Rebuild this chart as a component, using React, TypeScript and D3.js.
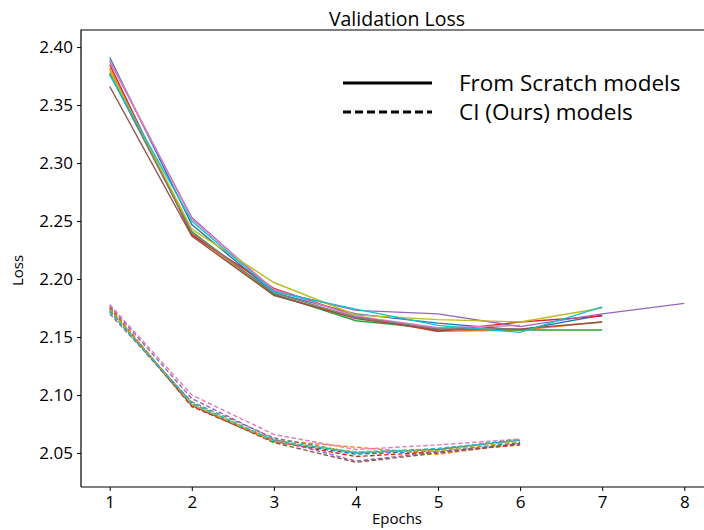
import { useRef, useEffect } from "react";
import * as d3 from "d3";

const epochs = [1, 2, 3, 4, 5, 6, 7, 8];
const yTicks = [2.05, 2.1, 2.15, 2.2, 2.25, 2.3, 2.35, 2.4];
const colors = [
  "#1f77b4", "#ff7f0e", "#2ca02c", "#d62728", "#9467bd",
  "#8c564b", "#e377c2", "#7f7f7f", "#bcbd22", "#17becf",
];

// from scratch runs (solid)
const scratchBlue = [2.391, 2.247, 2.188, 2.17, 2.162, 2.156, 2.169];
const scratchOrange = [2.382, 2.239, 2.186, 2.167, 2.155, 2.156, 2.163];
const scratchGreen = [2.378, 2.241, 2.187, 2.164, 2.157, 2.156, 2.156];
const scratchRed = [2.385, 2.238, 2.192, 2.168, 2.155, 2.163, 2.168];
const scratchPurple = [2.388, 2.253, 2.19, 2.173, 2.17, 2.159, 2.17, 2.179];
const scratchBrown = [2.366, 2.237, 2.186, 2.166, 2.156, 2.157, 2.163];
const scratchPink = [2.389, 2.252, 2.191, 2.168, 2.158, 2.16];
const scratchGray = [2.377, 2.24, 2.188, 2.167, 2.157, 2.157];
const scratchOlive = [2.38, 2.243, 2.197, 2.169, 2.165, 2.163, 2.175];
const scratchCyan = [2.376, 2.25, 2.189, 2.174, 2.16, 2.154, 2.176];

// CI runs (dashed)
const ciBlue = [2.174, 2.092, 2.06, 2.049, 2.052, 2.059];
const ciOrange = [2.176, 2.091, 2.061, 2.055, 2.049, 2.058];
const ciGreen = [2.173, 2.093, 2.059, 2.051, 2.053, 2.062];
const ciRed = [2.175, 2.09, 2.06, 2.047, 2.051, 2.057];
const ciPurple = [2.177, 2.097, 2.062, 2.043, 2.051, 2.058];
const ciBrown = [2.172, 2.091, 2.059, 2.042, 2.05, 2.058];
const ciPink = [2.178, 2.1, 2.066, 2.053, 2.057, 2.062];
const ciGray = [2.17, 2.094, 2.063, 2.05, 2.053, 2.061];
const ciOlive = [2.174, 2.092, 2.06, 2.051, 2.052, 2.06];
const ciCyan = [2.172, 2.093, 2.061, 2.05, 2.054, 2.061];

const scratch = [scratchBlue, scratchOrange, scratchGreen, scratchRed, scratchPurple,
  scratchBrown, scratchPink, scratchGray, scratchOlive, scratchCyan];
const ci = [ciBlue, ciOrange, ciGreen, ciRed, ciPurple,
  ciBrown, ciPink, ciGray, ciOlive, ciCyan];

const W = 704;
const H = 530;
const m = { left: 81, right: 713, top: 30, bottom: 487 };
const font = "'Open Sans', sans-serif";

const App = () => {
  const ref = useRef<SVGSVGElement | null>(null);

  useEffect(() => {
    if (!ref.current) return;
    const svg = d3.select(ref.current);
    svg.selectAll("*").remove();

    const x = d3.scaleLinear().domain([0.65, 8.35]).range([m.left, m.right]);
    const y = d3.scaleLinear().domain([2.0207, 2.4147]).range([m.bottom, m.top]);

    const line = d3
      .line<number>()
      .x((d, i) => x(epochs[i]))
      .y((d) => y(d));

    const plot = svg.append("g");
    scratch.forEach((s, i) => {
      plot.append("path").datum(s).attr("d", line)
        .attr("fill", "none").attr("stroke", colors[i]).attr("stroke-width", 1.4);
    });
    ci.forEach((s, i) => {
      plot.append("path").datum(s).attr("d", line)
        .attr("fill", "none").attr("stroke", colors[i]).attr("stroke-width", 1.4)
        .attr("stroke-dasharray", "4.5,2.5");
    });

    // axes (spines drawn separately)
    const xAxis = svg.append("g")
      .attr("transform", `translate(0,${m.bottom})`)
      .call(d3.axisBottom(x).tickValues(epochs).tickFormat(d3.format("d")).tickSize(4));
    const yAxis = svg.append("g")
      .attr("transform", `translate(${m.left},0)`)
      .call(d3.axisLeft(y).tickValues(yTicks).tickFormat(d3.format(".2f")).tickSize(4));
    [xAxis, yAxis].forEach((g) => {
      g.select(".domain").remove();
      g.selectAll("text").attr("font-family", font).attr("font-size", 17).attr("fill", "#000");
      g.selectAll("line").attr("stroke", "#000");
    });
    xAxis.selectAll("text").attr("dy", "0.85em");
    yAxis.selectAll("text").attr("x", -8);

    svg.append("path")
      .attr("d", `M${m.left},${m.bottom}V${m.top}H${m.right}M${m.left},${m.bottom}H${m.right}`)
      .attr("fill", "none").attr("stroke", "#000").attr("stroke-width", 1.2);

    svg.append("text").attr("x", (m.left + m.right) / 2).attr("y", 26)
      .attr("text-anchor", "middle").attr("font-family", font).attr("font-size", 19.5)
      .text("Validation Loss");
    svg.append("text").attr("x", (m.left + m.right) / 2).attr("y", 524)
      .attr("text-anchor", "middle").attr("font-family", font).attr("font-size", 15)
      .text("Epochs");
    svg.append("text").attr("transform", `translate(23,${(m.top + m.bottom) / 2 + 12}) rotate(-90)`)
      .attr("text-anchor", "middle").attr("font-family", font).attr("font-size", 15)
      .text("Loss");

    // legend
    const legend = [
      { label: "From Scratch models", dash: null, yy: 83 },
      { label: "CI (Ours) models", dash: "8,4", yy: 112 },
    ];
    legend.forEach((l) => {
      svg.append("line").attr("x1", 343).attr("x2", 432).attr("y1", l.yy).attr("y2", l.yy)
        .attr("stroke", "#000").attr("stroke-width", 3)
        .attr("stroke-dasharray", l.dash);
      svg.append("text").attr("x", 459).attr("y", l.yy).attr("dy", "0.35em")
        .attr("font-family", font).attr("font-size", 22.5).text(l.label);
    });
  }, []);

  return (
    <svg ref={ref} width={W} height={H}
      style={{ position: "absolute", left: 0, top: 0, background: "#fff" }} />
  );
};

export default App;
